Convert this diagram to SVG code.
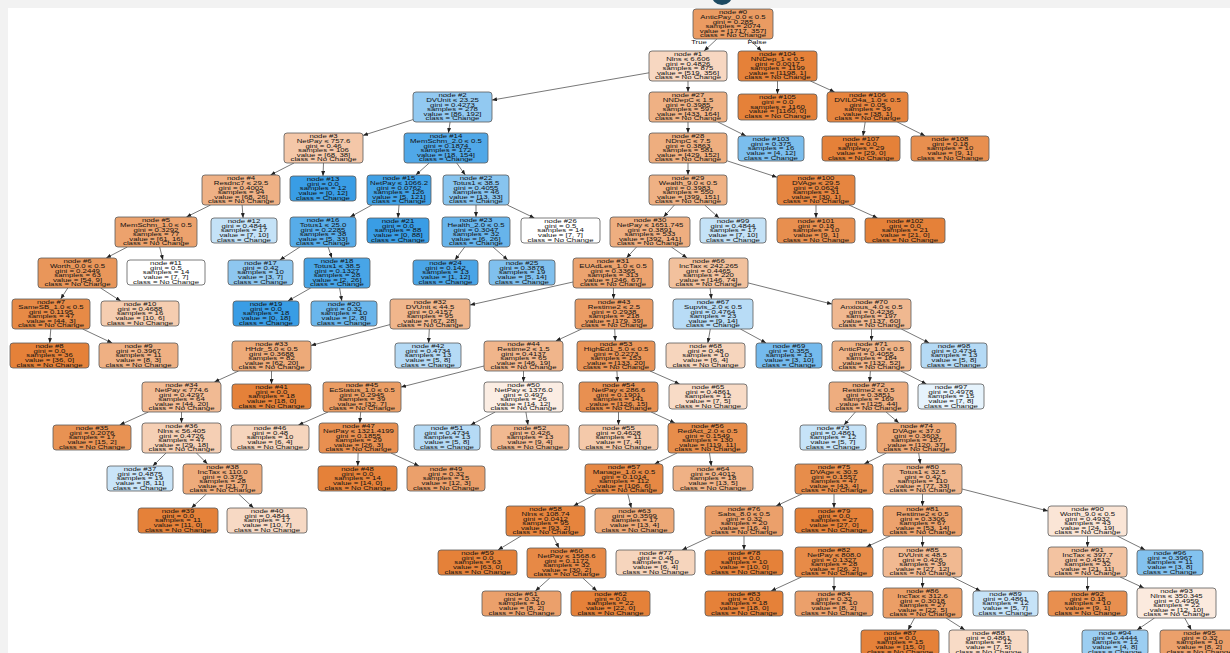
<svg xmlns="http://www.w3.org/2000/svg" width="1230" height="653" viewBox="0 0 1230 653">
<defs>
<style>
text{font-family:"Liberation Sans",Arial,Helvetica,sans-serif;font-size:5.3px;fill:#111;text-anchor:middle}
.nd rect{stroke:#5b5b5b;stroke-width:0.8}
#edges line{stroke:#3d3d3d;stroke-width:0.7;marker-end:url(#ah)}
</style>
<marker id="ah" markerWidth="5" markerHeight="4" refX="5" refY="2" orient="auto" markerUnits="userSpaceOnUse"><path d="M0,0 L5,2 L0,4 z" fill="#222"/></marker>
</defs>
<rect x="0" y="0" width="1230" height="653" fill="#ffffff"/>
<rect x="0" y="0" width="1230" height="8" fill="#f2f2f2"/>
<rect x="0" y="0" width="8" height="653" fill="#f2f2f2"/>
<circle cx="722" cy="-5.6" r="10.6" fill="#1d4a62"/>
<g id="edges">
<line x1="716.9" y1="39" x2="704.1" y2="51"/>
<line x1="748.9" y1="39" x2="761.6" y2="51"/>
<line x1="649" y1="72.8" x2="492" y2="100.1"/>
<line x1="688" y1="81" x2="688" y2="92"/>
<line x1="777.5" y1="81" x2="777.5" y2="94"/>
<line x1="810.4" y1="81" x2="834.6" y2="92"/>
<line x1="413" y1="119.6" x2="363" y2="135.4"/>
<line x1="450.1" y1="122" x2="448.4" y2="133"/>
<line x1="688" y1="122" x2="688" y2="133"/>
<line x1="718" y1="122" x2="746" y2="136"/>
<line x1="865.2" y1="122" x2="863" y2="136"/>
<line x1="897.3" y1="122" x2="925.2" y2="136"/>
<line x1="294" y1="163" x2="270.5" y2="175"/>
<line x1="323.5" y1="163" x2="323" y2="176"/>
<line x1="429.2" y1="163" x2="415.8" y2="175"/>
<line x1="456.7" y1="163" x2="465.3" y2="175"/>
<line x1="688" y1="163" x2="688" y2="175"/>
<line x1="727" y1="160.8" x2="777" y2="177.2"/>
<line x1="210.6" y1="205" x2="186.4" y2="217"/>
<line x1="242.1" y1="205" x2="243.1" y2="218"/>
<line x1="371.9" y1="205" x2="350.1" y2="217"/>
<line x1="399" y1="205" x2="398" y2="218"/>
<line x1="476" y1="205" x2="476" y2="217"/>
<line x1="507.3" y1="205" x2="534.4" y2="218"/>
<line x1="674.4" y1="205" x2="663.6" y2="217"/>
<line x1="704.7" y1="205" x2="719.1" y2="218"/>
<line x1="816" y1="205" x2="816" y2="218"/>
<line x1="848.9" y1="205" x2="877.5" y2="218"/>
<line x1="127.3" y1="247" x2="106.2" y2="258"/>
<line x1="159.7" y1="247" x2="162.9" y2="260"/>
<line x1="299.9" y1="247" x2="279.8" y2="260"/>
<line x1="328.1" y1="247" x2="331.9" y2="258"/>
<line x1="464.7" y1="247" x2="454.9" y2="260"/>
<line x1="493" y1="247" x2="507.8" y2="260"/>
<line x1="636.5" y1="247" x2="626.5" y2="258"/>
<line x1="671.4" y1="247" x2="687.1" y2="258"/>
<line x1="67.8" y1="288" x2="60.7" y2="299"/>
<line x1="100.6" y1="288" x2="120.7" y2="301"/>
<line x1="310.7" y1="288" x2="287.9" y2="301"/>
<line x1="339.6" y1="288" x2="341.8" y2="301"/>
<line x1="573" y1="282" x2="470" y2="305"/>
<line x1="613.4" y1="288" x2="613.6" y2="299"/>
<line x1="710.1" y1="288" x2="711.4" y2="299"/>
<line x1="748" y1="282.9" x2="832" y2="304.1"/>
<line x1="50.8" y1="329" x2="49.7" y2="343"/>
<line x1="82.6" y1="329" x2="112.2" y2="343"/>
<line x1="390" y1="324.6" x2="311" y2="345.5"/>
<line x1="429.3" y1="329" x2="428.6" y2="343"/>
<line x1="581.7" y1="329" x2="555.8" y2="341"/>
<line x1="614.7" y1="329" x2="615.3" y2="341"/>
<line x1="710.3" y1="329" x2="707.8" y2="343"/>
<line x1="740.4" y1="329" x2="766.1" y2="343"/>
<line x1="871.5" y1="329" x2="871.5" y2="341"/>
<line x1="901.3" y1="329" x2="929.2" y2="343"/>
<line x1="238.6" y1="371" x2="214.4" y2="382"/>
<line x1="271.5" y1="371" x2="271.5" y2="384"/>
<line x1="484" y1="366" x2="401" y2="387.1"/>
<line x1="523.5" y1="371" x2="523.5" y2="382"/>
<line x1="616.9" y1="371" x2="617.6" y2="382"/>
<line x1="650" y1="371" x2="679.6" y2="384"/>
<line x1="870.4" y1="371" x2="869.6" y2="382"/>
<line x1="900.9" y1="371" x2="926.4" y2="384"/>
<line x1="148.4" y1="412" x2="119.7" y2="425"/>
<line x1="181.5" y1="412" x2="181.5" y2="423"/>
<line x1="328" y1="412" x2="298.4" y2="425"/>
<line x1="360.7" y1="412" x2="359.8" y2="423"/>
<line x1="495.2" y1="412" x2="470.6" y2="425"/>
<line x1="525.9" y1="412" x2="528" y2="425"/>
<line x1="618.5" y1="412" x2="618.5" y2="425"/>
<line x1="651.1" y1="412" x2="674.9" y2="423"/>
<line x1="855.4" y1="412" x2="844" y2="425"/>
<line x1="886.1" y1="412" x2="898.9" y2="423"/>
<line x1="166.1" y1="453" x2="152.8" y2="466"/>
<line x1="196.5" y1="453" x2="207.5" y2="464"/>
<line x1="358.1" y1="453" x2="357.8" y2="466"/>
<line x1="390.9" y1="453" x2="419" y2="466"/>
<line x1="677" y1="453" x2="654.6" y2="464"/>
<line x1="709.5" y1="453" x2="711.3" y2="466"/>
<line x1="886.3" y1="453" x2="864.2" y2="464"/>
<line x1="918.7" y1="453" x2="920.3" y2="464"/>
<line x1="206.4" y1="494" x2="191.4" y2="508"/>
<line x1="238.6" y1="494" x2="253.6" y2="508"/>
<line x1="596" y1="494" x2="573.5" y2="506"/>
<line x1="627.8" y1="494" x2="631.3" y2="508"/>
<line x1="801.9" y1="494" x2="776.1" y2="506"/>
<line x1="834" y1="494" x2="834" y2="508"/>
<line x1="922.5" y1="494" x2="922.5" y2="506"/>
<line x1="962" y1="489" x2="1048" y2="511"/>
<line x1="521" y1="536" x2="498" y2="550"/>
<line x1="553" y1="536" x2="559" y2="548"/>
<line x1="712" y1="536" x2="682.1" y2="550"/>
<line x1="744" y1="536" x2="744" y2="550"/>
<line x1="890.1" y1="536" x2="866.4" y2="547"/>
<line x1="922.5" y1="536" x2="922.5" y2="547"/>
<line x1="1087.5" y1="536" x2="1087.5" y2="547"/>
<line x1="1117.3" y1="536" x2="1145.2" y2="550"/>
<line x1="549.8" y1="578" x2="535.4" y2="591"/>
<line x1="582.8" y1="578" x2="596.9" y2="591"/>
<line x1="801.5" y1="577" x2="771.1" y2="591"/>
<line x1="834" y1="577" x2="834" y2="591"/>
<line x1="922.5" y1="577" x2="922.5" y2="588"/>
<line x1="952.5" y1="577" x2="980.5" y2="591"/>
<line x1="1087.5" y1="577" x2="1087.5" y2="591"/>
<line x1="1120.1" y1="577" x2="1143.9" y2="588"/>
<line x1="914.5" y1="618" x2="908" y2="630"/>
<line x1="946.1" y1="618" x2="964.9" y2="630"/>
<line x1="1154.5" y1="618" x2="1137" y2="630"/>
<line x1="1184.7" y1="618" x2="1191.3" y2="630"/>
</g>
<text transform="translate(699 44) scale(1.47 1)">True</text>
<text transform="translate(757 44) scale(1.47 1)">False</text>
<g id="n0" class="nd"><rect x="693" y="9" width="80" height="30" rx="3" fill="#ea9b62"/><text transform="translate(733 9) scale(1.47 1)"><tspan x="0" y="5.4">node #0</tspan><tspan x="0" y="10">AnticPay_0.0 ≤ 0.5</tspan><tspan x="0" y="14.6">gini = 0.285</tspan><tspan x="0" y="19.2">samples = 2074</tspan><tspan x="0" y="23.8">value = [1717, 357]</tspan><tspan x="0" y="28.4">class = No Change</tspan></text></g>
<g id="n1" class="nd"><rect x="649" y="51" width="78" height="30" rx="3" fill="#f7d7c1"/><text transform="translate(688 51) scale(1.47 1)"><tspan x="0" y="5.4">node #1</tspan><tspan x="0" y="10">Nlns ≤ 6.606</tspan><tspan x="0" y="14.6">gini = 0.4826</tspan><tspan x="0" y="19.2">samples = 875</tspan><tspan x="0" y="23.8">value = [519, 356]</tspan><tspan x="0" y="28.4">class = No Change</tspan></text></g>
<g id="n104" class="nd"><rect x="738" y="51" width="79" height="30" rx="3" fill="#e58139"/><text transform="translate(777.5 51) scale(1.47 1)"><tspan x="0" y="5.4">node #104</tspan><tspan x="0" y="10">NNDep_1 ≤ 0.5</tspan><tspan x="0" y="14.6">gini = 0.0017</tspan><tspan x="0" y="19.2">samples = 1199</tspan><tspan x="0" y="23.8">value = [1198, 1]</tspan><tspan x="0" y="28.4">class = No Change</tspan></text></g>
<g id="n2" class="nd"><rect x="413" y="92" width="79" height="30" rx="3" fill="#92c9f1"/><text transform="translate(452.5 92) scale(1.47 1)"><tspan x="0" y="5.4">node #2</tspan><tspan x="0" y="10">DVUnit ≤ 23.25</tspan><tspan x="0" y="14.6">gini = 0.4273</tspan><tspan x="0" y="19.2">samples = 278</tspan><tspan x="0" y="23.8">value = [86, 192]</tspan><tspan x="0" y="28.4">class = Change</tspan></text></g>
<g id="n27" class="nd"><rect x="649" y="92" width="78" height="30" rx="3" fill="#efb184"/><text transform="translate(688 92) scale(1.47 1)"><tspan x="0" y="5.4">node #27</tspan><tspan x="0" y="10">NNDepC ≤ 1.5</tspan><tspan x="0" y="14.6">gini = 0.3985</tspan><tspan x="0" y="19.2">samples = 597</tspan><tspan x="0" y="23.8">value = [433, 164]</tspan><tspan x="0" y="28.4">class = No Change</tspan></text></g>
<g id="n105" class="nd"><rect x="738" y="94" width="79" height="26" rx="3" fill="#e58139"/><text transform="translate(777.5 94) scale(1.47 1)"><tspan x="0" y="5.5">node #105</tspan><tspan x="0" y="10.1">gini = 0.0</tspan><tspan x="0" y="14.7">samples = 1160</tspan><tspan x="0" y="19.3">value = [1160, 0]</tspan><tspan x="0" y="23.9">class = No Change</tspan></text></g>
<g id="n106" class="nd"><rect x="827" y="92" width="81" height="30" rx="3" fill="#e6843e"/><text transform="translate(867.5 92) scale(1.47 1)"><tspan x="0" y="5.4">node #106</tspan><tspan x="0" y="10">DVILO4a_1.0 ≤ 0.5</tspan><tspan x="0" y="14.6">gini = 0.05</tspan><tspan x="0" y="19.2">samples = 39</tspan><tspan x="0" y="23.8">value = [38, 1]</tspan><tspan x="0" y="28.4">class = No Change</tspan></text></g>
<g id="n3" class="nd"><rect x="284" y="133" width="79" height="30" rx="3" fill="#f4c7a8"/><text transform="translate(323.5 133) scale(1.47 1)"><tspan x="0" y="5.4">node #3</tspan><tspan x="0" y="10">NetPay ≤ 757.6</tspan><tspan x="0" y="14.6">gini = 0.46</tspan><tspan x="0" y="19.2">samples = 106</tspan><tspan x="0" y="23.8">value = [68, 38]</tspan><tspan x="0" y="28.4">class = No Change</tspan></text></g>
<g id="n14" class="nd"><rect x="404" y="133" width="84" height="30" rx="3" fill="#50a8e8"/><text transform="translate(446 133) scale(1.47 1)"><tspan x="0" y="5.4">node #14</tspan><tspan x="0" y="10">MemSchm_2.0 ≤ 0.5</tspan><tspan x="0" y="14.6">gini = 0.1874</tspan><tspan x="0" y="19.2">samples = 172</tspan><tspan x="0" y="23.8">value = [18, 154]</tspan><tspan x="0" y="28.4">class = Change</tspan></text></g>
<g id="n28" class="nd"><rect x="649" y="133" width="78" height="30" rx="3" fill="#eeae7f"/><text transform="translate(688 133) scale(1.47 1)"><tspan x="0" y="5.4">node #28</tspan><tspan x="0" y="10">NDnpC ≤ 7.5</tspan><tspan x="0" y="14.6">gini = 0.3863</tspan><tspan x="0" y="19.2">samples = 581</tspan><tspan x="0" y="23.8">value = [429, 152]</tspan><tspan x="0" y="28.4">class = No Change</tspan></text></g>
<g id="n103" class="nd"><rect x="738" y="136" width="66" height="25" rx="3" fill="#7bbeee"/><text transform="translate(771 136) scale(1.47 1)"><tspan x="0" y="5.3">node #103</tspan><tspan x="0" y="9.9">gini = 0.375</tspan><tspan x="0" y="14.5">samples = 16</tspan><tspan x="0" y="19.1">value = [4, 12]</tspan><tspan x="0" y="23.7">class = Change</tspan></text></g>
<g id="n107" class="nd"><rect x="822" y="136" width="78" height="25" rx="3" fill="#e58139"/><text transform="translate(861 136) scale(1.47 1)"><tspan x="0" y="5.3">node #107</tspan><tspan x="0" y="9.9">gini = 0.0</tspan><tspan x="0" y="14.5">samples = 29</tspan><tspan x="0" y="19.1">value = [29, 0]</tspan><tspan x="0" y="23.7">class = No Change</tspan></text></g>
<g id="n108" class="nd"><rect x="911" y="136" width="78" height="25" rx="3" fill="#e88f4f"/><text transform="translate(950 136) scale(1.47 1)"><tspan x="0" y="5.3">node #108</tspan><tspan x="0" y="9.9">gini = 0.18</tspan><tspan x="0" y="14.5">samples = 10</tspan><tspan x="0" y="19.1">value = [9, 1]</tspan><tspan x="0" y="23.7">class = No Change</tspan></text></g>
<g id="n4" class="nd"><rect x="202" y="175" width="78" height="30" rx="3" fill="#efb185"/><text transform="translate(241 175) scale(1.47 1)"><tspan x="0" y="5.4">node #4</tspan><tspan x="0" y="10">Resdnc7 ≤ 29.5</tspan><tspan x="0" y="14.6">gini = 0.4002</tspan><tspan x="0" y="19.2">samples = 94</tspan><tspan x="0" y="23.8">value = [68, 26]</tspan><tspan x="0" y="28.4">class = No Change</tspan></text></g>
<g id="n13" class="nd"><rect x="290" y="176" width="66" height="25" rx="3" fill="#399de5"/><text transform="translate(323 176) scale(1.47 1)"><tspan x="0" y="5.3">node #13</tspan><tspan x="0" y="9.9">gini = 0.0</tspan><tspan x="0" y="14.5">samples = 12</tspan><tspan x="0" y="19.1">value = [0, 12]</tspan><tspan x="0" y="23.7">class = Change</tspan></text></g>
<g id="n15" class="nd"><rect x="367" y="175" width="64" height="30" rx="3" fill="#41a1e6"/><text transform="translate(399 175) scale(1.47 1)"><tspan x="0" y="5.4">node #15</tspan><tspan x="0" y="10">NetPay ≤ 1066.2</tspan><tspan x="0" y="14.6">gini = 0.0762</tspan><tspan x="0" y="19.2">samples = 126</tspan><tspan x="0" y="23.8">value = [5, 121]</tspan><tspan x="0" y="28.4">class = Change</tspan></text></g>
<g id="n22" class="nd"><rect x="443" y="175" width="66" height="30" rx="3" fill="#87c4ef"/><text transform="translate(476 175) scale(1.47 1)"><tspan x="0" y="5.4">node #22</tspan><tspan x="0" y="10">Totus1 ≤ 38.5</tspan><tspan x="0" y="14.6">gini = 0.4055</tspan><tspan x="0" y="19.2">samples = 46</tspan><tspan x="0" y="23.8">value = [13, 33]</tspan><tspan x="0" y="28.4">class = Change</tspan></text></g>
<g id="n29" class="nd"><rect x="649" y="175" width="78" height="30" rx="3" fill="#efb184"/><text transform="translate(688 175) scale(1.47 1)"><tspan x="0" y="5.4">node #29</tspan><tspan x="0" y="10">Wealth_9.0 ≤ 0.5</tspan><tspan x="0" y="14.6">gini = 0.3983</tspan><tspan x="0" y="19.2">samples = 550</tspan><tspan x="0" y="23.8">value = [399, 151]</tspan><tspan x="0" y="28.4">class = No Change</tspan></text></g>
<g id="n100" class="nd"><rect x="777" y="175" width="78" height="30" rx="3" fill="#e68540"/><text transform="translate(816 175) scale(1.47 1)"><tspan x="0" y="5.4">node #100</tspan><tspan x="0" y="10">DVAge ≤ 29.5</tspan><tspan x="0" y="14.6">gini = 0.0624</tspan><tspan x="0" y="19.2">samples = 31</tspan><tspan x="0" y="23.8">value = [30, 1]</tspan><tspan x="0" y="28.4">class = No Change</tspan></text></g>
<g id="n5" class="nd"><rect x="115" y="217" width="82" height="30" rx="3" fill="#eca26d"/><text transform="translate(156 217) scale(1.47 1)"><tspan x="0" y="5.4">node #5</tspan><tspan x="0" y="10">MemSchm_1.0 ≤ 0.5</tspan><tspan x="0" y="14.6">gini = 0.3292</tspan><tspan x="0" y="19.2">samples = 77</tspan><tspan x="0" y="23.8">value = [61, 16]</tspan><tspan x="0" y="28.4">class = No Change</tspan></text></g>
<g id="n12" class="nd"><rect x="211" y="218" width="66" height="25" rx="3" fill="#c4e2f7"/><text transform="translate(244 218) scale(1.47 1)"><tspan x="0" y="5.3">node #12</tspan><tspan x="0" y="9.9">gini = 0.4844</tspan><tspan x="0" y="14.5">samples = 17</tspan><tspan x="0" y="19.1">value = [7, 10]</tspan><tspan x="0" y="23.7">class = Change</tspan></text></g>
<g id="n16" class="nd"><rect x="290" y="217" width="66" height="30" rx="3" fill="#57ace9"/><text transform="translate(323 217) scale(1.47 1)"><tspan x="0" y="5.4">node #16</tspan><tspan x="0" y="10">Totus1 ≤ 25.0</tspan><tspan x="0" y="14.6">gini = 0.2285</tspan><tspan x="0" y="19.2">samples = 38</tspan><tspan x="0" y="23.8">value = [5, 33]</tspan><tspan x="0" y="28.4">class = Change</tspan></text></g>
<g id="n21" class="nd"><rect x="367" y="218" width="62" height="25" rx="3" fill="#399de5"/><text transform="translate(398 218) scale(1.47 1)"><tspan x="0" y="5.3">node #21</tspan><tspan x="0" y="9.9">gini = 0.0</tspan><tspan x="0" y="14.5">samples = 88</tspan><tspan x="0" y="19.1">value = [0, 88]</tspan><tspan x="0" y="23.7">class = Change</tspan></text></g>
<g id="n23" class="nd"><rect x="442" y="217" width="68" height="30" rx="3" fill="#67b4eb"/><text transform="translate(476 217) scale(1.47 1)"><tspan x="0" y="5.4">node #23</tspan><tspan x="0" y="10">Health_2.0 ≤ 0.5</tspan><tspan x="0" y="14.6">gini = 0.3047</tspan><tspan x="0" y="19.2">samples = 32</tspan><tspan x="0" y="23.8">value = [6, 26]</tspan><tspan x="0" y="28.4">class = Change</tspan></text></g>
<g id="n26" class="nd"><rect x="521" y="218" width="79" height="25" rx="3" fill="#ffffff"/><text transform="translate(560.5 218) scale(1.47 1)"><tspan x="0" y="5.3">node #26</tspan><tspan x="0" y="9.9">gini = 0.5</tspan><tspan x="0" y="14.5">samples = 14</tspan><tspan x="0" y="19.1">value = [7, 7]</tspan><tspan x="0" y="23.7">class = No Change</tspan></text></g>
<g id="n30" class="nd"><rect x="610" y="217" width="80" height="30" rx="3" fill="#eeae80"/><text transform="translate(650 217) scale(1.47 1)"><tspan x="0" y="5.4">node #30</tspan><tspan x="0" y="10">NetPay ≤ 1651.745</tspan><tspan x="0" y="14.6">gini = 0.3891</tspan><tspan x="0" y="19.2">samples = 533</tspan><tspan x="0" y="23.8">value = [392, 141]</tspan><tspan x="0" y="28.4">class = No Change</tspan></text></g>
<g id="n99" class="nd"><rect x="700" y="218" width="66" height="25" rx="3" fill="#c4e2f7"/><text transform="translate(733 218) scale(1.47 1)"><tspan x="0" y="5.3">node #99</tspan><tspan x="0" y="9.9">gini = 0.4844</tspan><tspan x="0" y="14.5">samples = 17</tspan><tspan x="0" y="19.1">value = [7, 10]</tspan><tspan x="0" y="23.7">class = Change</tspan></text></g>
<g id="n101" class="nd"><rect x="777" y="218" width="78" height="25" rx="3" fill="#e88f4f"/><text transform="translate(816 218) scale(1.47 1)"><tspan x="0" y="5.3">node #101</tspan><tspan x="0" y="9.9">gini = 0.18</tspan><tspan x="0" y="14.5">samples = 10</tspan><tspan x="0" y="19.1">value = [9, 1]</tspan><tspan x="0" y="23.7">class = No Change</tspan></text></g>
<g id="n102" class="nd"><rect x="865" y="218" width="80" height="25" rx="3" fill="#e58139"/><text transform="translate(905 218) scale(1.47 1)"><tspan x="0" y="5.3">node #102</tspan><tspan x="0" y="9.9">gini = 0.0</tspan><tspan x="0" y="14.5">samples = 21</tspan><tspan x="0" y="19.1">value = [21, 0]</tspan><tspan x="0" y="23.7">class = No Change</tspan></text></g>
<g id="n6" class="nd"><rect x="38" y="258" width="79" height="30" rx="3" fill="#e9965a"/><text transform="translate(77.5 258) scale(1.47 1)"><tspan x="0" y="5.4">node #6</tspan><tspan x="0" y="10">Worth_0.0 ≤ 0.5</tspan><tspan x="0" y="14.6">gini = 0.2449</tspan><tspan x="0" y="19.2">samples = 63</tspan><tspan x="0" y="23.8">value = [54, 9]</tspan><tspan x="0" y="28.4">class = No Change</tspan></text></g>
<g id="n11" class="nd"><rect x="127" y="260" width="78" height="25" rx="3" fill="#ffffff"/><text transform="translate(166 260) scale(1.47 1)"><tspan x="0" y="5.3">node #11</tspan><tspan x="0" y="9.9">gini = 0.5</tspan><tspan x="0" y="14.5">samples = 14</tspan><tspan x="0" y="19.1">value = [7, 7]</tspan><tspan x="0" y="23.7">class = No Change</tspan></text></g>
<g id="n17" class="nd"><rect x="228" y="260" width="65" height="25" rx="3" fill="#8ec7f0"/><text transform="translate(260.5 260) scale(1.47 1)"><tspan x="0" y="5.3">node #17</tspan><tspan x="0" y="9.9">gini = 0.42</tspan><tspan x="0" y="14.5">samples = 10</tspan><tspan x="0" y="19.1">value = [3, 7]</tspan><tspan x="0" y="23.7">class = Change</tspan></text></g>
<g id="n18" class="nd"><rect x="304" y="258" width="66" height="30" rx="3" fill="#48a5e7"/><text transform="translate(337 258) scale(1.47 1)"><tspan x="0" y="5.4">node #18</tspan><tspan x="0" y="10">Totus1 ≤ 38.5</tspan><tspan x="0" y="14.6">gini = 0.1327</tspan><tspan x="0" y="19.2">samples = 28</tspan><tspan x="0" y="23.8">value = [2, 26]</tspan><tspan x="0" y="28.4">class = Change</tspan></text></g>
<g id="n24" class="nd"><rect x="413" y="260" width="65" height="25" rx="3" fill="#4aa5e7"/><text transform="translate(445.5 260) scale(1.47 1)"><tspan x="0" y="5.3">node #24</tspan><tspan x="0" y="9.9">gini = 0.142</tspan><tspan x="0" y="14.5">samples = 13</tspan><tspan x="0" y="19.1">value = [1, 12]</tspan><tspan x="0" y="23.7">class = Change</tspan></text></g>
<g id="n25" class="nd"><rect x="489" y="260" width="66" height="25" rx="3" fill="#80c0ee"/><text transform="translate(522 260) scale(1.47 1)"><tspan x="0" y="5.3">node #25</tspan><tspan x="0" y="9.9">gini = 0.3878</tspan><tspan x="0" y="14.5">samples = 19</tspan><tspan x="0" y="19.1">value = [5, 14]</tspan><tspan x="0" y="23.7">class = Change</tspan></text></g>
<g id="n31" class="nd"><rect x="573" y="258" width="80" height="30" rx="3" fill="#eca36f"/><text transform="translate(613 258) scale(1.47 1)"><tspan x="0" y="5.4">node #31</tspan><tspan x="0" y="10">EUAdLes_1.0 ≤ 0.5</tspan><tspan x="0" y="14.6">gini = 0.3365</tspan><tspan x="0" y="19.2">samples = 313</tspan><tspan x="0" y="23.8">value = [246, 67]</tspan><tspan x="0" y="28.4">class = No Change</tspan></text></g>
<g id="n66" class="nd"><rect x="669" y="258" width="79" height="30" rx="3" fill="#f2c19d"/><text transform="translate(708.5 258) scale(1.47 1)"><tspan x="0" y="5.4">node #66</tspan><tspan x="0" y="10">IncTax ≤ 242.265</tspan><tspan x="0" y="14.6">gini = 0.4465</tspan><tspan x="0" y="19.2">samples = 220</tspan><tspan x="0" y="23.8">value = [146, 74]</tspan><tspan x="0" y="28.4">class = No Change</tspan></text></g>
<g id="n7" class="nd"><rect x="12" y="299" width="78" height="30" rx="3" fill="#e78a46"/><text transform="translate(51 299) scale(1.47 1)"><tspan x="0" y="5.4">node #7</tspan><tspan x="0" y="10">SameSB_1.0 ≤ 0.5</tspan><tspan x="0" y="14.6">gini = 0.1195</tspan><tspan x="0" y="19.2">samples = 47</tspan><tspan x="0" y="23.8">value = [44, 3]</tspan><tspan x="0" y="28.4">class = No Change</tspan></text></g>
<g id="n10" class="nd"><rect x="101" y="301" width="78" height="25" rx="3" fill="#f5cdb0"/><text transform="translate(140 301) scale(1.47 1)"><tspan x="0" y="5.3">node #10</tspan><tspan x="0" y="9.9">gini = 0.4688</tspan><tspan x="0" y="14.5">samples = 16</tspan><tspan x="0" y="19.1">value = [10, 6]</tspan><tspan x="0" y="23.7">class = No Change</tspan></text></g>
<g id="n19" class="nd"><rect x="233" y="301" width="66" height="25" rx="3" fill="#399de5"/><text transform="translate(266 301) scale(1.47 1)"><tspan x="0" y="5.3">node #19</tspan><tspan x="0" y="9.9">gini = 0.0</tspan><tspan x="0" y="14.5">samples = 18</tspan><tspan x="0" y="19.1">value = [0, 18]</tspan><tspan x="0" y="23.7">class = Change</tspan></text></g>
<g id="n20" class="nd"><rect x="311" y="301" width="66" height="25" rx="3" fill="#6ab6ec"/><text transform="translate(344 301) scale(1.47 1)"><tspan x="0" y="5.3">node #20</tspan><tspan x="0" y="9.9">gini = 0.32</tspan><tspan x="0" y="14.5">samples = 10</tspan><tspan x="0" y="19.1">value = [2, 8]</tspan><tspan x="0" y="23.7">class = Change</tspan></text></g>
<g id="n32" class="nd"><rect x="390" y="299" width="80" height="30" rx="3" fill="#f0b68c"/><text transform="translate(430 299) scale(1.47 1)"><tspan x="0" y="5.4">node #32</tspan><tspan x="0" y="10">DVUnit ≤ 44.5</tspan><tspan x="0" y="14.6">gini = 0.4157</tspan><tspan x="0" y="19.2">samples = 95</tspan><tspan x="0" y="23.8">value = [67, 28]</tspan><tspan x="0" y="28.4">class = No Change</tspan></text></g>
<g id="n43" class="nd"><rect x="575" y="299" width="78" height="30" rx="3" fill="#eb9c64"/><text transform="translate(614 299) scale(1.47 1)"><tspan x="0" y="5.4">node #43</tspan><tspan x="0" y="10">Restime2 ≤ 2.5</tspan><tspan x="0" y="14.6">gini = 0.2938</tspan><tspan x="0" y="19.2">samples = 218</tspan><tspan x="0" y="23.8">value = [179, 39]</tspan><tspan x="0" y="28.4">class = No Change</tspan></text></g>
<g id="n67" class="nd"><rect x="673" y="299" width="80" height="30" rx="3" fill="#b8dcf6"/><text transform="translate(713 299) scale(1.47 1)"><tspan x="0" y="5.4">node #67</tspan><tspan x="0" y="10">Supvis_2.0 ≤ 0.5</tspan><tspan x="0" y="14.6">gini = 0.4764</tspan><tspan x="0" y="19.2">samples = 23</tspan><tspan x="0" y="23.8">value = [9, 14]</tspan><tspan x="0" y="28.4">class = Change</tspan></text></g>
<g id="n70" class="nd"><rect x="832" y="299" width="79" height="30" rx="3" fill="#f0b890"/><text transform="translate(871.5 299) scale(1.47 1)"><tspan x="0" y="5.4">node #70</tspan><tspan x="0" y="10">Anxious_4.0 ≤ 0.5</tspan><tspan x="0" y="14.6">gini = 0.4236</tspan><tspan x="0" y="19.2">samples = 197</tspan><tspan x="0" y="23.8">value = [137, 60]</tspan><tspan x="0" y="28.4">class = No Change</tspan></text></g>
<g id="n8" class="nd"><rect x="10" y="343" width="79" height="25" rx="3" fill="#e58139"/><text transform="translate(49.5 343) scale(1.47 1)"><tspan x="0" y="5.3">node #8</tspan><tspan x="0" y="9.9">gini = 0.0</tspan><tspan x="0" y="14.5">samples = 36</tspan><tspan x="0" y="19.1">value = [36, 0]</tspan><tspan x="0" y="23.7">class = No Change</tspan></text></g>
<g id="n9" class="nd"><rect x="99" y="343" width="79" height="25" rx="3" fill="#efb083"/><text transform="translate(138.5 343) scale(1.47 1)"><tspan x="0" y="5.3">node #9</tspan><tspan x="0" y="9.9">gini = 0.3967</tspan><tspan x="0" y="14.5">samples = 11</tspan><tspan x="0" y="19.1">value = [8, 3]</tspan><tspan x="0" y="23.7">class = No Change</tspan></text></g>
<g id="n33" class="nd"><rect x="232" y="341" width="79" height="30" rx="3" fill="#edaa79"/><text transform="translate(271.5 341) scale(1.47 1)"><tspan x="0" y="5.4">node #33</tspan><tspan x="0" y="10">HHdr_5.0 ≤ 0.5</tspan><tspan x="0" y="14.6">gini = 0.3688</tspan><tspan x="0" y="19.2">samples = 82</tspan><tspan x="0" y="23.8">value = [62, 20]</tspan><tspan x="0" y="28.4">class = No Change</tspan></text></g>
<g id="n42" class="nd"><rect x="395" y="343" width="66" height="25" rx="3" fill="#b5daf5"/><text transform="translate(428 343) scale(1.47 1)"><tspan x="0" y="5.3">node #42</tspan><tspan x="0" y="9.9">gini = 0.4734</tspan><tspan x="0" y="14.5">samples = 13</tspan><tspan x="0" y="19.1">value = [5, 8]</tspan><tspan x="0" y="23.7">class = Change</tspan></text></g>
<g id="n44" class="nd"><rect x="484" y="341" width="79" height="30" rx="3" fill="#f0b58b"/><text transform="translate(523.5 341) scale(1.47 1)"><tspan x="0" y="5.4">node #44</tspan><tspan x="0" y="10">Restime2 ≤ 1.5</tspan><tspan x="0" y="14.6">gini = 0.4137</tspan><tspan x="0" y="19.2">samples = 65</tspan><tspan x="0" y="23.8">value = [46, 19]</tspan><tspan x="0" y="28.4">class = No Change</tspan></text></g>
<g id="n53" class="nd"><rect x="577" y="341" width="78" height="30" rx="3" fill="#e99457"/><text transform="translate(616 341) scale(1.47 1)"><tspan x="0" y="5.4">node #53</tspan><tspan x="0" y="10">HighEd1_5.0 ≤ 0.5</tspan><tspan x="0" y="14.6">gini = 0.2273</tspan><tspan x="0" y="19.2">samples = 153</tspan><tspan x="0" y="23.8">value = [133, 20]</tspan><tspan x="0" y="28.4">class = No Change</tspan></text></g>
<g id="n68" class="nd"><rect x="666" y="343" width="79" height="25" rx="3" fill="#f6d5bd"/><text transform="translate(705.5 343) scale(1.47 1)"><tspan x="0" y="5.3">node #68</tspan><tspan x="0" y="9.9">gini = 0.48</tspan><tspan x="0" y="14.5">samples = 10</tspan><tspan x="0" y="19.1">value = [6, 4]</tspan><tspan x="0" y="23.7">class = No Change</tspan></text></g>
<g id="n69" class="nd"><rect x="756" y="343" width="66" height="25" rx="3" fill="#74baed"/><text transform="translate(789 343) scale(1.47 1)"><tspan x="0" y="5.3">node #69</tspan><tspan x="0" y="9.9">gini = 0.355</tspan><tspan x="0" y="14.5">samples = 13</tspan><tspan x="0" y="19.1">value = [3, 10]</tspan><tspan x="0" y="23.7">class = Change</tspan></text></g>
<g id="n71" class="nd"><rect x="832" y="341" width="79" height="30" rx="3" fill="#efb387"/><text transform="translate(871.5 341) scale(1.47 1)"><tspan x="0" y="5.4">node #71</tspan><tspan x="0" y="10">AnticPay_1.0 ≤ 0.5</tspan><tspan x="0" y="14.6">gini = 0.4055</tspan><tspan x="0" y="19.2">samples = 184</tspan><tspan x="0" y="23.8">value = [132, 52]</tspan><tspan x="0" y="28.4">class = No Change</tspan></text></g>
<g id="n98" class="nd"><rect x="921" y="343" width="66" height="25" rx="3" fill="#b5daf5"/><text transform="translate(954 343) scale(1.47 1)"><tspan x="0" y="5.3">node #98</tspan><tspan x="0" y="9.9">gini = 0.4734</tspan><tspan x="0" y="14.5">samples = 13</tspan><tspan x="0" y="19.1">value = [5, 8]</tspan><tspan x="0" y="23.7">class = Change</tspan></text></g>
<g id="n34" class="nd"><rect x="142" y="382" width="79" height="30" rx="3" fill="#f1ba93"/><text transform="translate(181.5 382) scale(1.47 1)"><tspan x="0" y="5.4">node #34</tspan><tspan x="0" y="10">NetPay ≤ 774.6</tspan><tspan x="0" y="14.6">gini = 0.4297</tspan><tspan x="0" y="19.2">samples = 64</tspan><tspan x="0" y="23.8">value = [44, 20]</tspan><tspan x="0" y="28.4">class = No Change</tspan></text></g>
<g id="n41" class="nd"><rect x="232" y="384" width="79" height="25" rx="3" fill="#e58139"/><text transform="translate(271.5 384) scale(1.47 1)"><tspan x="0" y="5.3">node #41</tspan><tspan x="0" y="9.9">gini = 0.0</tspan><tspan x="0" y="14.5">samples = 18</tspan><tspan x="0" y="19.1">value = [18, 0]</tspan><tspan x="0" y="23.7">class = No Change</tspan></text></g>
<g id="n45" class="nd"><rect x="323" y="382" width="78" height="30" rx="3" fill="#eb9d64"/><text transform="translate(362 382) scale(1.47 1)"><tspan x="0" y="5.4">node #45</tspan><tspan x="0" y="10">EcStatus_1.0 ≤ 0.5</tspan><tspan x="0" y="14.6">gini = 0.2945</tspan><tspan x="0" y="19.2">samples = 39</tspan><tspan x="0" y="23.8">value = [32, 7]</tspan><tspan x="0" y="28.4">class = No Change</tspan></text></g>
<g id="n50" class="nd"><rect x="484" y="382" width="79" height="30" rx="3" fill="#fbede3"/><text transform="translate(523.5 382) scale(1.47 1)"><tspan x="0" y="5.4">node #50</tspan><tspan x="0" y="10">NetPay ≤ 1376.0</tspan><tspan x="0" y="14.6">gini = 0.497</tspan><tspan x="0" y="19.2">samples = 26</tspan><tspan x="0" y="23.8">value = [14, 12]</tspan><tspan x="0" y="28.4">class = No Change</tspan></text></g>
<g id="n54" class="nd"><rect x="579" y="382" width="79" height="30" rx="3" fill="#e89051"/><text transform="translate(618.5 382) scale(1.47 1)"><tspan x="0" y="5.4">node #54</tspan><tspan x="0" y="10">NetPay ≤ 286.6</tspan><tspan x="0" y="14.6">gini = 0.1901</tspan><tspan x="0" y="19.2">samples = 141</tspan><tspan x="0" y="23.8">value = [126, 15]</tspan><tspan x="0" y="28.4">class = No Change</tspan></text></g>
<g id="n65" class="nd"><rect x="669" y="384" width="78" height="25" rx="3" fill="#f8dbc6"/><text transform="translate(708 384) scale(1.47 1)"><tspan x="0" y="5.3">node #65</tspan><tspan x="0" y="9.9">gini = 0.4861</tspan><tspan x="0" y="14.5">samples = 12</tspan><tspan x="0" y="19.1">value = [7, 5]</tspan><tspan x="0" y="23.7">class = No Change</tspan></text></g>
<g id="n72" class="nd"><rect x="829" y="382" width="79" height="30" rx="3" fill="#eead7f"/><text transform="translate(868.5 382) scale(1.47 1)"><tspan x="0" y="5.4">node #72</tspan><tspan x="0" y="10">Restime2 ≤ 0.5</tspan><tspan x="0" y="14.6">gini = 0.3851</tspan><tspan x="0" y="19.2">samples = 169</tspan><tspan x="0" y="23.8">value = [125, 44]</tspan><tspan x="0" y="28.4">class = No Change</tspan></text></g>
<g id="n97" class="nd"><rect x="918" y="384" width="66" height="25" rx="3" fill="#e6f3fc"/><text transform="translate(951 384) scale(1.47 1)"><tspan x="0" y="5.3">node #97</tspan><tspan x="0" y="9.9">gini = 0.4978</tspan><tspan x="0" y="14.5">samples = 15</tspan><tspan x="0" y="19.1">value = [7, 8]</tspan><tspan x="0" y="23.7">class = Change</tspan></text></g>
<g id="n35" class="nd"><rect x="53" y="425" width="78" height="25" rx="3" fill="#e89253"/><text transform="translate(92 425) scale(1.47 1)"><tspan x="0" y="5.3">node #35</tspan><tspan x="0" y="9.9">gini = 0.2076</tspan><tspan x="0" y="14.5">samples = 17</tspan><tspan x="0" y="19.1">value = [15, 2]</tspan><tspan x="0" y="23.7">class = No Change</tspan></text></g>
<g id="n36" class="nd"><rect x="142" y="423" width="79" height="30" rx="3" fill="#f5cfb4"/><text transform="translate(181.5 423) scale(1.47 1)"><tspan x="0" y="5.4">node #36</tspan><tspan x="0" y="10">Nlns ≤ 56.405</tspan><tspan x="0" y="14.6">gini = 0.4726</tspan><tspan x="0" y="19.2">samples = 47</tspan><tspan x="0" y="23.8">value = [29, 18]</tspan><tspan x="0" y="28.4">class = No Change</tspan></text></g>
<g id="n46" class="nd"><rect x="231" y="425" width="78" height="25" rx="3" fill="#f6d5bd"/><text transform="translate(270 425) scale(1.47 1)"><tspan x="0" y="5.3">node #46</tspan><tspan x="0" y="9.9">gini = 0.48</tspan><tspan x="0" y="14.5">samples = 10</tspan><tspan x="0" y="19.1">value = [6, 4]</tspan><tspan x="0" y="23.7">class = No Change</tspan></text></g>
<g id="n47" class="nd"><rect x="319" y="423" width="79" height="30" rx="3" fill="#e88f50"/><text transform="translate(358.5 423) scale(1.47 1)"><tspan x="0" y="5.4">node #47</tspan><tspan x="0" y="10">NetPay ≤ 1321.4199</tspan><tspan x="0" y="14.6">gini = 0.1855</tspan><tspan x="0" y="19.2">samples = 29</tspan><tspan x="0" y="23.8">value = [26, 3]</tspan><tspan x="0" y="28.4">class = No Change</tspan></text></g>
<g id="n51" class="nd"><rect x="414" y="425" width="66" height="25" rx="3" fill="#b5daf5"/><text transform="translate(447 425) scale(1.47 1)"><tspan x="0" y="5.3">node #51</tspan><tspan x="0" y="9.9">gini = 0.4734</tspan><tspan x="0" y="14.5">samples = 13</tspan><tspan x="0" y="19.1">value = [5, 8]</tspan><tspan x="0" y="23.7">class = Change</tspan></text></g>
<g id="n52" class="nd"><rect x="491" y="425" width="78" height="25" rx="3" fill="#f1b991"/><text transform="translate(530 425) scale(1.47 1)"><tspan x="0" y="5.3">node #52</tspan><tspan x="0" y="9.9">gini = 0.426</tspan><tspan x="0" y="14.5">samples = 13</tspan><tspan x="0" y="19.1">value = [9, 4]</tspan><tspan x="0" y="23.7">class = No Change</tspan></text></g>
<g id="n55" class="nd"><rect x="579" y="425" width="79" height="25" rx="3" fill="#f4c9aa"/><text transform="translate(618.5 425) scale(1.47 1)"><tspan x="0" y="5.3">node #55</tspan><tspan x="0" y="9.9">gini = 0.4628</tspan><tspan x="0" y="14.5">samples = 11</tspan><tspan x="0" y="19.1">value = [7, 4]</tspan><tspan x="0" y="23.7">class = No Change</tspan></text></g>
<g id="n56" class="nd"><rect x="668" y="423" width="79" height="30" rx="3" fill="#e78d4b"/><text transform="translate(707.5 423) scale(1.47 1)"><tspan x="0" y="5.4">node #56</tspan><tspan x="0" y="10">RedAct_2.0 ≤ 0.5</tspan><tspan x="0" y="14.6">gini = 0.1549</tspan><tspan x="0" y="19.2">samples = 130</tspan><tspan x="0" y="23.8">value = [119, 11]</tspan><tspan x="0" y="28.4">class = No Change</tspan></text></g>
<g id="n73" class="nd"><rect x="800" y="425" width="66" height="25" rx="3" fill="#c6e3f8"/><text transform="translate(833 425) scale(1.47 1)"><tspan x="0" y="5.3">node #73</tspan><tspan x="0" y="9.9">gini = 0.4861</tspan><tspan x="0" y="14.5">samples = 12</tspan><tspan x="0" y="19.1">value = [5, 7]</tspan><tspan x="0" y="23.7">class = Change</tspan></text></g>
<g id="n74" class="nd"><rect x="877" y="423" width="79" height="30" rx="3" fill="#eda876"/><text transform="translate(916.5 423) scale(1.47 1)"><tspan x="0" y="5.4">node #74</tspan><tspan x="0" y="10">DVAge ≤ 37.0</tspan><tspan x="0" y="14.6">gini = 0.3603</tspan><tspan x="0" y="19.2">samples = 157</tspan><tspan x="0" y="23.8">value = [120, 37]</tspan><tspan x="0" y="28.4">class = No Change</tspan></text></g>
<g id="n37" class="nd"><rect x="107" y="466" width="66" height="25" rx="3" fill="#c9e4f8"/><text transform="translate(140 466) scale(1.47 1)"><tspan x="0" y="5.3">node #37</tspan><tspan x="0" y="9.9">gini = 0.4875</tspan><tspan x="0" y="14.5">samples = 19</tspan><tspan x="0" y="19.1">value = [8, 11]</tspan><tspan x="0" y="23.7">class = Change</tspan></text></g>
<g id="n38" class="nd"><rect x="183" y="464" width="79" height="30" rx="3" fill="#eeab7b"/><text transform="translate(222.5 464) scale(1.47 1)"><tspan x="0" y="5.4">node #38</tspan><tspan x="0" y="10">IncTax ≤ 110.0</tspan><tspan x="0" y="14.6">gini = 0.375</tspan><tspan x="0" y="19.2">samples = 28</tspan><tspan x="0" y="23.8">value = [21, 7]</tspan><tspan x="0" y="28.4">class = No Change</tspan></text></g>
<g id="n48" class="nd"><rect x="318" y="466" width="79" height="25" rx="3" fill="#e58139"/><text transform="translate(357.5 466) scale(1.47 1)"><tspan x="0" y="5.3">node #48</tspan><tspan x="0" y="9.9">gini = 0.0</tspan><tspan x="0" y="14.5">samples = 14</tspan><tspan x="0" y="19.1">value = [14, 0]</tspan><tspan x="0" y="23.7">class = No Change</tspan></text></g>
<g id="n49" class="nd"><rect x="407" y="466" width="78" height="25" rx="3" fill="#eba06b"/><text transform="translate(446 466) scale(1.47 1)"><tspan x="0" y="5.3">node #49</tspan><tspan x="0" y="9.9">gini = 0.32</tspan><tspan x="0" y="14.5">samples = 15</tspan><tspan x="0" y="19.1">value = [12, 3]</tspan><tspan x="0" y="23.7">class = No Change</tspan></text></g>
<g id="n57" class="nd"><rect x="585" y="464" width="78" height="30" rx="3" fill="#e68844"/><text transform="translate(624 464) scale(1.47 1)"><tspan x="0" y="5.4">node #57</tspan><tspan x="0" y="10">Manage_1.0 ≤ 0.5</tspan><tspan x="0" y="14.6">gini = 0.1014</tspan><tspan x="0" y="19.2">samples = 112</tspan><tspan x="0" y="23.8">value = [106, 6]</tspan><tspan x="0" y="28.4">class = No Change</tspan></text></g>
<g id="n64" class="nd"><rect x="673" y="466" width="80" height="25" rx="3" fill="#efb185"/><text transform="translate(713 466) scale(1.47 1)"><tspan x="0" y="5.3">node #64</tspan><tspan x="0" y="9.9">gini = 0.4012</tspan><tspan x="0" y="14.5">samples = 18</tspan><tspan x="0" y="19.1">value = [13, 5]</tspan><tspan x="0" y="23.7">class = No Change</tspan></text></g>
<g id="n75" class="nd"><rect x="795" y="464" width="78" height="30" rx="3" fill="#e78d4b"/><text transform="translate(834 464) scale(1.47 1)"><tspan x="0" y="5.4">node #75</tspan><tspan x="0" y="10">DVAge ≤ 30.5</tspan><tspan x="0" y="14.6">gini = 0.1557</tspan><tspan x="0" y="19.2">samples = 47</tspan><tspan x="0" y="23.8">value = [43, 4]</tspan><tspan x="0" y="28.4">class = No Change</tspan></text></g>
<g id="n80" class="nd"><rect x="883" y="464" width="79" height="30" rx="3" fill="#f0b78e"/><text transform="translate(922.5 464) scale(1.47 1)"><tspan x="0" y="5.4">node #80</tspan><tspan x="0" y="10">Totus1 ≤ 32.5</tspan><tspan x="0" y="14.6">gini = 0.42</tspan><tspan x="0" y="19.2">samples = 110</tspan><tspan x="0" y="23.8">value = [77, 33]</tspan><tspan x="0" y="28.4">class = No Change</tspan></text></g>
<g id="n39" class="nd"><rect x="138" y="508" width="80" height="25" rx="3" fill="#e58139"/><text transform="translate(178 508) scale(1.47 1)"><tspan x="0" y="5.3">node #39</tspan><tspan x="0" y="9.9">gini = 0.0</tspan><tspan x="0" y="14.5">samples = 11</tspan><tspan x="0" y="19.1">value = [11, 0]</tspan><tspan x="0" y="23.7">class = No Change</tspan></text></g>
<g id="n40" class="nd"><rect x="227" y="508" width="80" height="25" rx="3" fill="#f7d9c4"/><text transform="translate(267 508) scale(1.47 1)"><tspan x="0" y="5.3">node #40</tspan><tspan x="0" y="9.9">gini = 0.4844</tspan><tspan x="0" y="14.5">samples = 17</tspan><tspan x="0" y="19.1">value = [10, 7]</tspan><tspan x="0" y="23.7">class = No Change</tspan></text></g>
<g id="n58" class="nd"><rect x="506" y="506" width="79" height="30" rx="3" fill="#e6843d"/><text transform="translate(545.5 506) scale(1.47 1)"><tspan x="0" y="5.4">node #58</tspan><tspan x="0" y="10">Nlns ≤ 108.74</tspan><tspan x="0" y="14.6">gini = 0.0412</tspan><tspan x="0" y="19.2">samples = 95</tspan><tspan x="0" y="23.8">value = [93, 2]</tspan><tspan x="0" y="28.4">class = No Change</tspan></text></g>
<g id="n63" class="nd"><rect x="595" y="508" width="79" height="25" rx="3" fill="#eda876"/><text transform="translate(634.5 508) scale(1.47 1)"><tspan x="0" y="5.3">node #63</tspan><tspan x="0" y="9.9">gini = 0.3599</tspan><tspan x="0" y="14.5">samples = 17</tspan><tspan x="0" y="19.1">value = [13, 4]</tspan><tspan x="0" y="23.7">class = No Change</tspan></text></g>
<g id="n76" class="nd"><rect x="705" y="506" width="78" height="30" rx="3" fill="#eba06b"/><text transform="translate(744 506) scale(1.47 1)"><tspan x="0" y="5.4">node #76</tspan><tspan x="0" y="10">Sabs_8.0 ≤ 0.5</tspan><tspan x="0" y="14.6">gini = 0.32</tspan><tspan x="0" y="19.2">samples = 20</tspan><tspan x="0" y="23.8">value = [16, 4]</tspan><tspan x="0" y="28.4">class = No Change</tspan></text></g>
<g id="n79" class="nd"><rect x="795" y="508" width="78" height="25" rx="3" fill="#e58139"/><text transform="translate(834 508) scale(1.47 1)"><tspan x="0" y="5.3">node #79</tspan><tspan x="0" y="9.9">gini = 0.0</tspan><tspan x="0" y="14.5">samples = 27</tspan><tspan x="0" y="19.1">value = [27, 0]</tspan><tspan x="0" y="23.7">class = No Change</tspan></text></g>
<g id="n81" class="nd"><rect x="883" y="506" width="79" height="30" rx="3" fill="#eca26d"/><text transform="translate(922.5 506) scale(1.47 1)"><tspan x="0" y="5.4">node #81</tspan><tspan x="0" y="10">Restime2 ≤ 0.5</tspan><tspan x="0" y="14.6">gini = 0.3306</tspan><tspan x="0" y="19.2">samples = 67</tspan><tspan x="0" y="23.8">value = [53, 14]</tspan><tspan x="0" y="28.4">class = No Change</tspan></text></g>
<g id="n90" class="nd"><rect x="1048" y="506" width="79" height="30" rx="3" fill="#fae5d6"/><text transform="translate(1087.5 506) scale(1.47 1)"><tspan x="0" y="5.4">node #90</tspan><tspan x="0" y="10">Worth_9.0 ≤ 0.5</tspan><tspan x="0" y="14.6">gini = 0.4932</tspan><tspan x="0" y="19.2">samples = 43</tspan><tspan x="0" y="23.8">value = [24, 19]</tspan><tspan x="0" y="28.4">class = No Change</tspan></text></g>
<g id="n59" class="nd"><rect x="438" y="550" width="79" height="25" rx="3" fill="#e58139"/><text transform="translate(477.5 550) scale(1.47 1)"><tspan x="0" y="5.3">node #59</tspan><tspan x="0" y="9.9">gini = 0.0</tspan><tspan x="0" y="14.5">samples = 63</tspan><tspan x="0" y="19.1">value = [63, 0]</tspan><tspan x="0" y="23.7">class = No Change</tspan></text></g>
<g id="n60" class="nd"><rect x="527" y="548" width="79" height="30" rx="3" fill="#e78946"/><text transform="translate(566.5 548) scale(1.47 1)"><tspan x="0" y="5.4">node #60</tspan><tspan x="0" y="10">NetPay ≤ 1568.6</tspan><tspan x="0" y="14.6">gini = 0.1172</tspan><tspan x="0" y="19.2">samples = 32</tspan><tspan x="0" y="23.8">value = [30, 2]</tspan><tspan x="0" y="28.4">class = No Change</tspan></text></g>
<g id="n77" class="nd"><rect x="616" y="550" width="79" height="25" rx="3" fill="#f6d5bd"/><text transform="translate(655.5 550) scale(1.47 1)"><tspan x="0" y="5.3">node #77</tspan><tspan x="0" y="9.9">gini = 0.48</tspan><tspan x="0" y="14.5">samples = 10</tspan><tspan x="0" y="19.1">value = [6, 4]</tspan><tspan x="0" y="23.7">class = No Change</tspan></text></g>
<g id="n78" class="nd"><rect x="705" y="550" width="78" height="25" rx="3" fill="#e58139"/><text transform="translate(744 550) scale(1.47 1)"><tspan x="0" y="5.3">node #78</tspan><tspan x="0" y="9.9">gini = 0.0</tspan><tspan x="0" y="14.5">samples = 10</tspan><tspan x="0" y="19.1">value = [10, 0]</tspan><tspan x="0" y="23.7">class = No Change</tspan></text></g>
<g id="n82" class="nd"><rect x="795" y="547" width="78" height="30" rx="3" fill="#e78b48"/><text transform="translate(834 547) scale(1.47 1)"><tspan x="0" y="5.4">node #82</tspan><tspan x="0" y="10">NetPay ≤ 808.0</tspan><tspan x="0" y="14.6">gini = 0.1327</tspan><tspan x="0" y="19.2">samples = 28</tspan><tspan x="0" y="23.8">value = [26, 2]</tspan><tspan x="0" y="28.4">class = No Change</tspan></text></g>
<g id="n85" class="nd"><rect x="883" y="547" width="79" height="30" rx="3" fill="#f1b991"/><text transform="translate(922.5 547) scale(1.47 1)"><tspan x="0" y="5.4">node #85</tspan><tspan x="0" y="10">DVUnit ≤ 48.5</tspan><tspan x="0" y="14.6">gini = 0.426</tspan><tspan x="0" y="19.2">samples = 39</tspan><tspan x="0" y="23.8">value = [27, 12]</tspan><tspan x="0" y="28.4">class = No Change</tspan></text></g>
<g id="n91" class="nd"><rect x="1048" y="547" width="79" height="30" rx="3" fill="#f3c3a1"/><text transform="translate(1087.5 547) scale(1.47 1)"><tspan x="0" y="5.4">node #91</tspan><tspan x="0" y="10">IncTax ≤ 397.7</tspan><tspan x="0" y="14.6">gini = 0.4512</tspan><tspan x="0" y="19.2">samples = 32</tspan><tspan x="0" y="23.8">value = [21, 11]</tspan><tspan x="0" y="28.4">class = No Change</tspan></text></g>
<g id="n96" class="nd"><rect x="1137" y="550" width="66" height="25" rx="3" fill="#83c2ef"/><text transform="translate(1170 550) scale(1.47 1)"><tspan x="0" y="5.3">node #96</tspan><tspan x="0" y="9.9">gini = 0.3967</tspan><tspan x="0" y="14.5">samples = 11</tspan><tspan x="0" y="19.1">value = [3, 8]</tspan><tspan x="0" y="23.7">class = Change</tspan></text></g>
<g id="n61" class="nd"><rect x="482" y="591" width="79" height="25" rx="3" fill="#eba06b"/><text transform="translate(521.5 591) scale(1.47 1)"><tspan x="0" y="5.3">node #61</tspan><tspan x="0" y="9.9">gini = 0.32</tspan><tspan x="0" y="14.5">samples = 10</tspan><tspan x="0" y="19.1">value = [8, 2]</tspan><tspan x="0" y="23.7">class = No Change</tspan></text></g>
<g id="n62" class="nd"><rect x="571" y="591" width="79" height="25" rx="3" fill="#e58139"/><text transform="translate(610.5 591) scale(1.47 1)"><tspan x="0" y="5.3">node #62</tspan><tspan x="0" y="9.9">gini = 0.0</tspan><tspan x="0" y="14.5">samples = 22</tspan><tspan x="0" y="19.1">value = [22, 0]</tspan><tspan x="0" y="23.7">class = No Change</tspan></text></g>
<g id="n83" class="nd"><rect x="705" y="591" width="78" height="25" rx="3" fill="#e58139"/><text transform="translate(744 591) scale(1.47 1)"><tspan x="0" y="5.3">node #83</tspan><tspan x="0" y="9.9">gini = 0.0</tspan><tspan x="0" y="14.5">samples = 18</tspan><tspan x="0" y="19.1">value = [18, 0]</tspan><tspan x="0" y="23.7">class = No Change</tspan></text></g>
<g id="n84" class="nd"><rect x="795" y="591" width="78" height="25" rx="3" fill="#eba06b"/><text transform="translate(834 591) scale(1.47 1)"><tspan x="0" y="5.3">node #84</tspan><tspan x="0" y="9.9">gini = 0.32</tspan><tspan x="0" y="14.5">samples = 10</tspan><tspan x="0" y="19.1">value = [8, 2]</tspan><tspan x="0" y="23.7">class = No Change</tspan></text></g>
<g id="n86" class="nd"><rect x="883" y="588" width="79" height="30" rx="3" fill="#eb9e66"/><text transform="translate(922.5 588) scale(1.47 1)"><tspan x="0" y="5.4">node #86</tspan><tspan x="0" y="10">IncTax ≤ 312.6</tspan><tspan x="0" y="14.6">gini = 0.3018</tspan><tspan x="0" y="19.2">samples = 27</tspan><tspan x="0" y="23.8">value = [22, 5]</tspan><tspan x="0" y="28.4">class = No Change</tspan></text></g>
<g id="n89" class="nd"><rect x="973" y="591" width="65" height="25" rx="3" fill="#c6e3f8"/><text transform="translate(1005.5 591) scale(1.47 1)"><tspan x="0" y="5.3">node #89</tspan><tspan x="0" y="9.9">gini = 0.4861</tspan><tspan x="0" y="14.5">samples = 12</tspan><tspan x="0" y="19.1">value = [5, 7]</tspan><tspan x="0" y="23.7">class = Change</tspan></text></g>
<g id="n92" class="nd"><rect x="1048" y="591" width="79" height="25" rx="3" fill="#e88f4f"/><text transform="translate(1087.5 591) scale(1.47 1)"><tspan x="0" y="5.3">node #92</tspan><tspan x="0" y="9.9">gini = 0.18</tspan><tspan x="0" y="14.5">samples = 10</tspan><tspan x="0" y="19.1">value = [9, 1]</tspan><tspan x="0" y="23.7">class = No Change</tspan></text></g>
<g id="n93" class="nd"><rect x="1137" y="588" width="79" height="30" rx="3" fill="#fbeade"/><text transform="translate(1176.5 588) scale(1.47 1)"><tspan x="0" y="5.4">node #93</tspan><tspan x="0" y="10">Nlns ≤ 350.345</tspan><tspan x="0" y="14.6">gini = 0.4959</tspan><tspan x="0" y="19.2">samples = 22</tspan><tspan x="0" y="23.8">value = [12, 10]</tspan><tspan x="0" y="28.4">class = No Change</tspan></text></g>
<g id="n87" class="nd"><rect x="861" y="630" width="78" height="25" rx="3" fill="#e58139"/><text transform="translate(900 630) scale(1.47 1)"><tspan x="0" y="5.3">node #87</tspan><tspan x="0" y="9.9">gini = 0.0</tspan><tspan x="0" y="14.5">samples = 15</tspan><tspan x="0" y="19.1">value = [15, 0]</tspan><tspan x="0" y="23.7">class = No Change</tspan></text></g>
<g id="n88" class="nd"><rect x="949" y="630" width="79" height="25" rx="3" fill="#f8dbc6"/><text transform="translate(988.5 630) scale(1.47 1)"><tspan x="0" y="5.3">node #88</tspan><tspan x="0" y="9.9">gini = 0.4861</tspan><tspan x="0" y="14.5">samples = 12</tspan><tspan x="0" y="19.1">value = [7, 5]</tspan><tspan x="0" y="23.7">class = No Change</tspan></text></g>
<g id="n94" class="nd"><rect x="1082" y="630" width="66" height="25" rx="3" fill="#9ccef2"/><text transform="translate(1115 630) scale(1.47 1)"><tspan x="0" y="5.3">node #94</tspan><tspan x="0" y="9.9">gini = 0.4444</tspan><tspan x="0" y="14.5">samples = 12</tspan><tspan x="0" y="19.1">value = [4, 8]</tspan><tspan x="0" y="23.7">class = Change</tspan></text></g>
<g id="n95" class="nd"><rect x="1160" y="630" width="79" height="25" rx="3" fill="#eba06b"/><text transform="translate(1199.5 630) scale(1.47 1)"><tspan x="0" y="5.3">node #95</tspan><tspan x="0" y="9.9">gini = 0.32</tspan><tspan x="0" y="14.5">samples = 10</tspan><tspan x="0" y="19.1">value = [8, 2]</tspan><tspan x="0" y="23.7">class = No Change</tspan></text></g>
</svg>
